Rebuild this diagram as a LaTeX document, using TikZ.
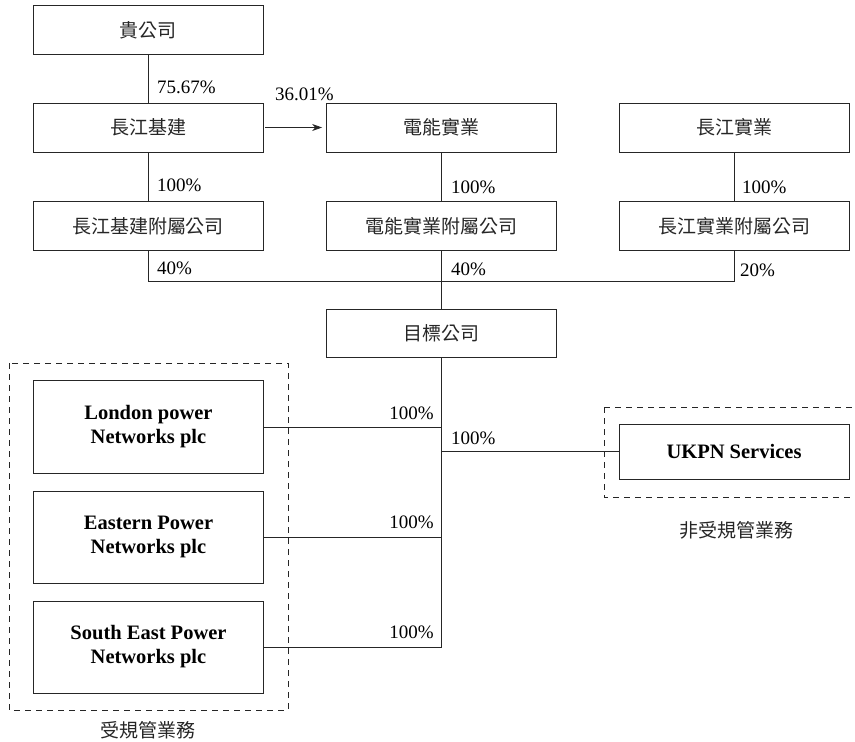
\documentclass[tikz,border=0pt]{standalone}
\usepackage{fontspec}
\setmainfont{Liberation Serif}
\newfontfamily\cjk{Noto Sans CJK TC}
\usetikzlibrary{arrows.meta}
\begin{document}
\begin{tikzpicture}[x=1pt,y=-1pt,
  font=\fontsize{19}{24}\selectfont,
  box/.style={draw=black!85, line width=0.8pt, minimum width=230pt, minimum height=49pt, inner sep=0pt, align=center},
  cjkbox/.style={box, font=\fontsize{19}{24}\selectfont\cjk\color{black!85}},
  bigbox/.style={box, minimum height=93pt, font=\fontsize{20.5}{24}\selectfont\bfseries},
  ln/.style={draw=black!85, line width=0.8pt},
  pct/.style={inner sep=0pt},
  grp/.style={draw=black!85, line width=0.8pt, dash pattern=on 6pt off 5pt},
  grpcaption/.style={inner sep=0pt, font=\fontsize{19}{24}\selectfont\cjk\color{black!85}}]
\useasboundingbox (0,0) rectangle (855,742);

% top rows
\node[cjkbox] (gui) at (148,30) {貴公司};
\node[cjkbox] (cki) at (148,127.5) {長江基建};
\node[cjkbox] (pah) at (441.5,127.5) {電能實業};
\node[cjkbox] (ckh) at (734,127.5) {長江實業};
\node[cjkbox] (ckisub) at (148,226) {長江基建附屬公司};
\node[cjkbox] (pahsub) at (441.5,226) {電能實業附屬公司};
\node[cjkbox] (ckhsub) at (734,226) {長江實業附屬公司};
\node[cjkbox, minimum height=48pt] (tgt) at (441.5,333) {目標公司};

% bottom
\node[bigbox] (lpn) at (148.5,427) {London power\\Networks plc};
\node[bigbox, minimum height=92pt] (epn) at (148.5,537) {Eastern Power\\Networks plc};
\node[bigbox, minimum height=92pt] (sepn) at (148.5,647) {South East Power\\Networks plc};
\node[box, minimum height=55pt, font=\fontsize{20.5}{24}\selectfont\bfseries] (ukpn) at (734,451.5) {UKPN Services};

% dashed groups
\draw[grp] (9,363) rectangle (288,710);
\draw[grp] (604,407) -- (870,407) (604,407) -- (604,497) -- (870,497);
\node[grpcaption] (reg) at (148,730) {受規管業務};
\node[grpcaption] (nonreg) at (736,530) {非受規管業務};

% connectors
\draw[ln] (gui.south) -- (cki.north);
\draw[ln] (cki.south) -- (ckisub.north);
\draw[ln] (pah.south) -- (pahsub.north);
\draw[ln] (ckh.south) -- (ckhsub.north);
\draw[ln, -{Stealth[length=10pt,width=7pt]}, shorten <=2pt, shorten >=4pt] (cki.east) -- (pah.west);

\coordinate (jl) at (ckisub.south |- 0,281.5);
\coordinate (jr) at (ckhsub.south |- 0,281.5);
\draw[ln] (ckisub.south) -- (jl) -- (jr) -- (ckhsub.south);
\draw[ln] (pahsub.south) -- (tgt.north);

\coordinate (j1) at (tgt.south |- lpn.east);
\coordinate (j2) at (tgt.south |- epn.east);
\coordinate (j3) at (tgt.south |- sepn.east);
\coordinate (ju) at (tgt.south |- ukpn.west);
\draw[ln] (tgt.south) -- (j3);
\draw[ln] (lpn.east) -- (j1);
\draw[ln] (epn.east) -- (j2);
\draw[ln] (sepn.east) -- (j3);
\draw[ln] (ju) -- (ukpn.west);

% percentages
\node[pct, anchor=west] (p1) at (157,87) {75.67\%};
\node[pct, anchor=west] (p2) at (275,94) {36.01\%};
\node[pct, anchor=west] (p3) at (157,185) {100\%};
\node[pct, anchor=west] (p4) at (451,187) {100\%};
\node[pct, anchor=west] (p5) at (742,187) {100\%};
\node[pct, anchor=west] (p6) at (157,268) {40\%};
\node[pct, anchor=west] (p7) at (451,269) {40\%};
\node[pct, anchor=west] (p8) at (740,270) {20\%};
\node[pct, anchor=east] (p9) at (434,413) {100\%};
\node[pct, anchor=east] (p10) at (434,522) {100\%};
\node[pct, anchor=east] (p11) at (434,632) {100\%};
\node[pct, anchor=west] (p12) at (451,438) {100\%};
\end{tikzpicture}
\end{document}
